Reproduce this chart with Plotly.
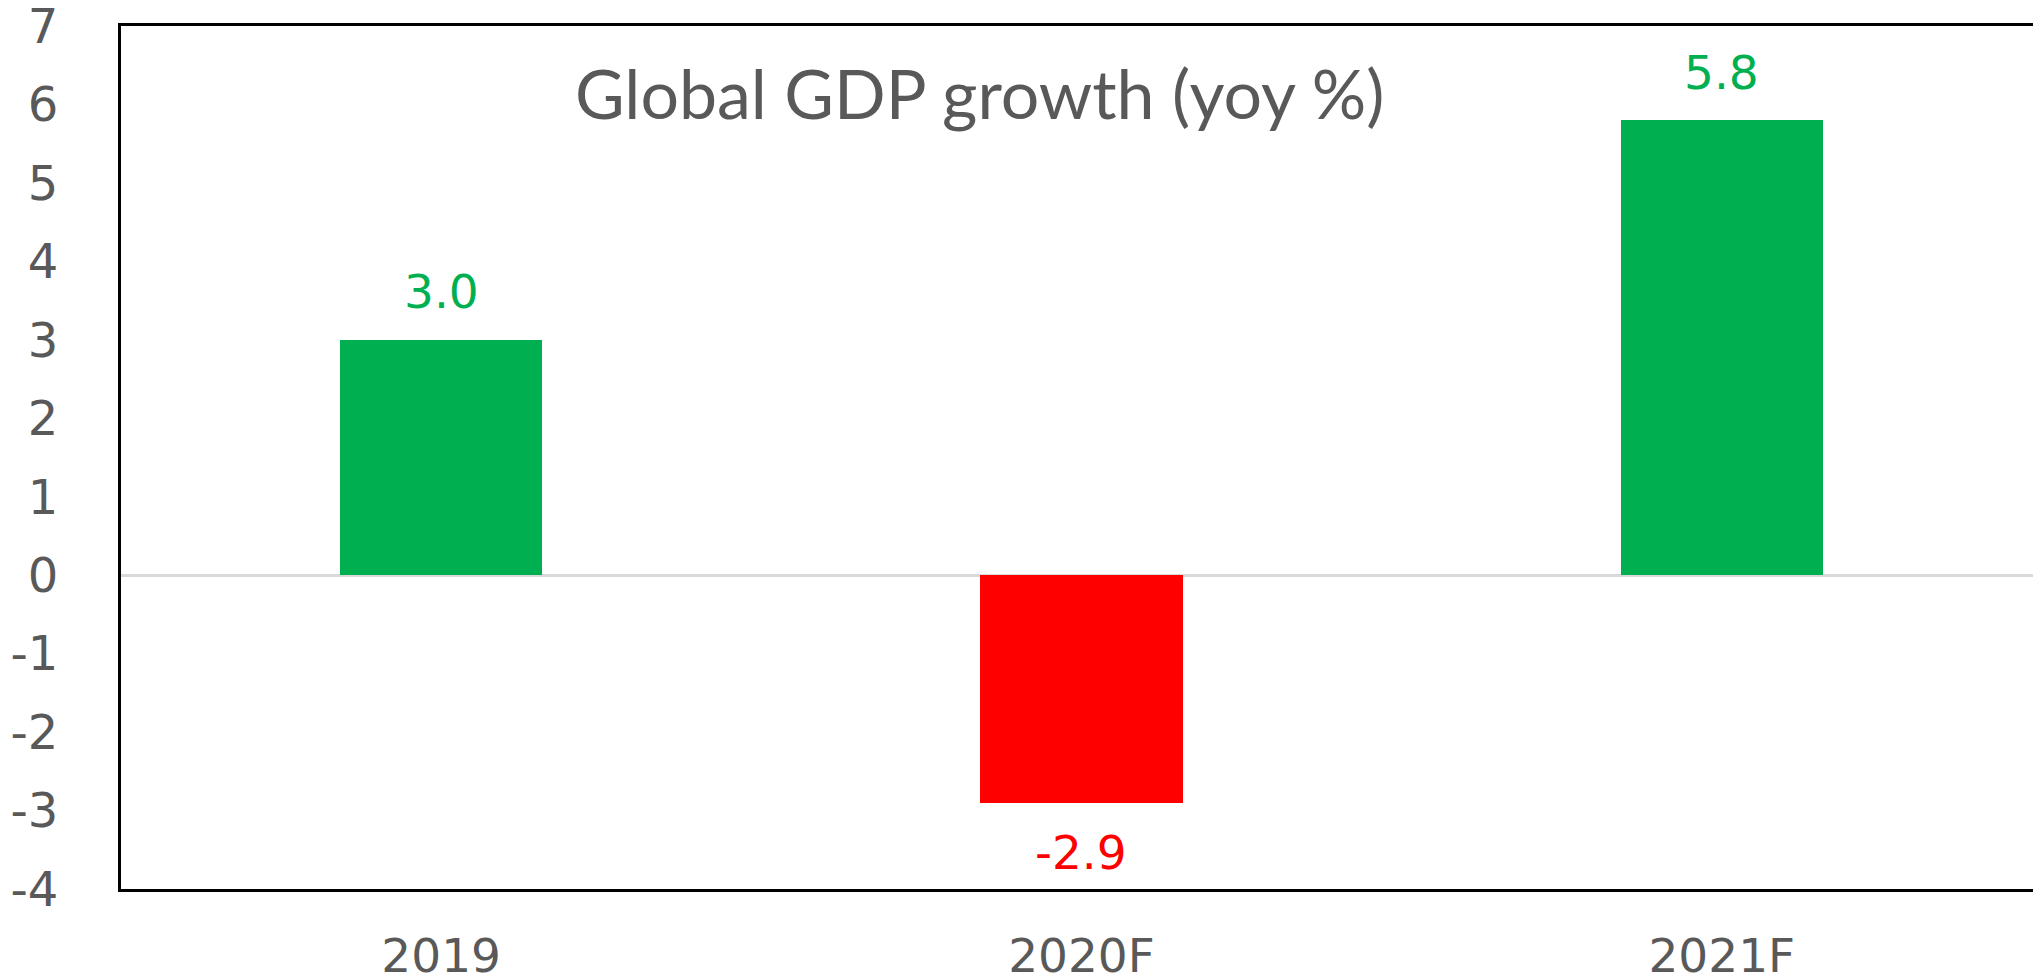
import plotly.graph_objects as go

categories = ["2019", "2020F", "2021F"]
values = [3.0, -2.9, 5.8]
value_labels = ["3.0", "-2.9", "5.8"]
bar_colors = ["#00B050", "#FF0000", "#00B050"]
y_ticks = [-4, -3, -2, -1, 0, 1, 2, 3, 4, 5, 6, 7]
title_text = "Global GDP growth (yoy %)"

NUM_FONT = "'DejaVu Sans', Verdana, sans-serif"
TITLE_FONT = "Lato, 'Open Sans', sans-serif"
GREY = "#595959"

fig = go.Figure()
fig.add_trace(go.Bar(
    x=categories, y=values,
    marker=dict(color=bar_colors, line=dict(width=0)),
    width=0.316,
    hoverinfo="x+y",
))

for i, (v, t, col) in enumerate(zip(values, value_labels, bar_colors)):
    fig.add_annotation(
        x=i, y=v, text=t, showarrow=False,
        yshift=48 if v >= 0 else -50,
        font=dict(family=NUM_FONT, size=47, color=col),
        xanchor="center", yanchor="middle",
    )

fig.add_annotation(
    xref="paper", yref="paper", x=0.449, y=0.923,
    text=title_text, showarrow=False,
    font=dict(family=TITLE_FONT, size=68, color=GREY),
    xanchor="center", yanchor="middle",
)

fig.update_layout(
    width=2033, height=980,
    margin=dict(l=121, r=0, t=26, b=91),
    paper_bgcolor="white", plot_bgcolor="white",
    showlegend=False,
    bargap=0,
    font=dict(family=NUM_FONT, color=GREY),
)
fig.update_xaxes(
    type="category",
    range=[-0.5, 2.486],
    automargin=False,
    showline=True, linecolor="black", linewidth=3, mirror=True,
    showgrid=False, ticks="",
    tickfont=dict(family=NUM_FONT, size=47, color=GREY),
    ticklabelstandoff=24,
    ticklabeloverflow="allow",
)
fig.update_yaxes(
    range=[-4, 7.0001],
    automargin=False,
    tickmode="array", tickvals=y_ticks, ticktext=[str(t) for t in y_ticks],
    showline=True, linecolor="black", linewidth=3,
    showgrid=False, ticks="",
    zeroline=True, zerolinecolor="#D9D9D9", zerolinewidth=2.5,
    tickfont=dict(family=NUM_FONT, size=48, color=GREY),
    ticklabelstandoff=50,
    ticklabeloverflow="allow",
)

fig.write_html(
    "out.html",
    config={"displayModeBar": False},
    post_script="document.body.style.margin='0';document.body.style.overflow='hidden';",
)
